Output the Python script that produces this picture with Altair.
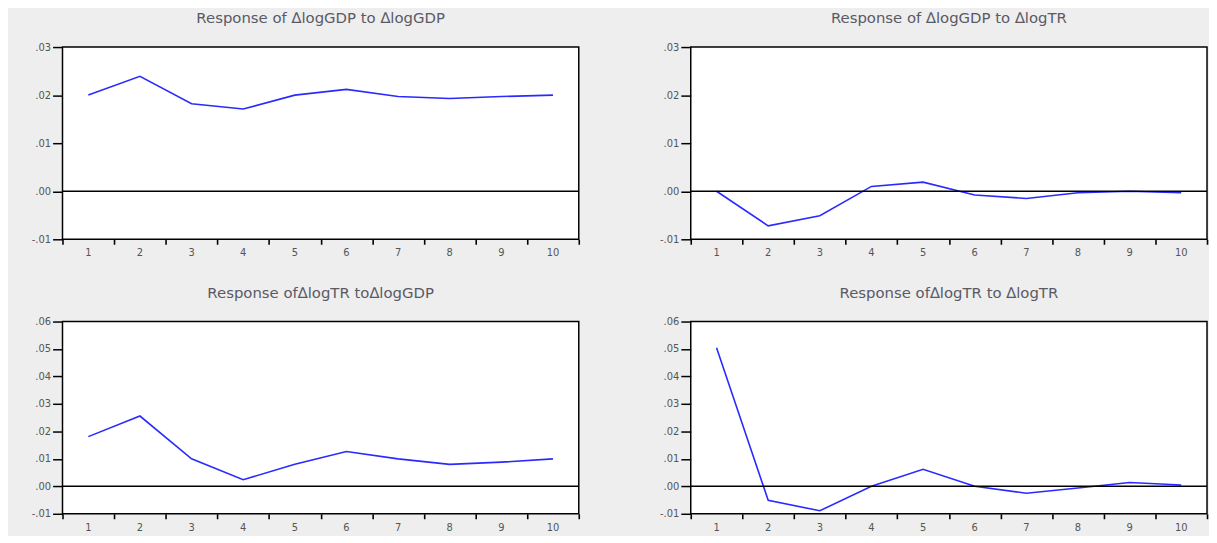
import altair as alt
import pandas as pd

periods = [1, 2, 3, 4, 5, 6, 7, 8, 9, 10]
gdp_to_gdp = [0.0200, 0.0239, 0.0182, 0.0171, 0.0200, 0.0212, 0.0197, 0.0193, 0.0197, 0.0200]
gdp_to_tr = [0.0000, -0.0072, -0.0051, 0.0010, 0.0019, -0.0008, -0.0015, -0.0003, 0.0000, -0.0003]
tr_to_gdp = [0.0181, 0.0256, 0.0100, 0.0024, 0.0080, 0.0127, 0.0100, 0.0080, 0.0088, 0.0100]
tr_to_tr = [0.0505, -0.0051, -0.0089, 0.0000, 0.0062, 0.0000, -0.0025, -0.0006, 0.0014, 0.0005]

titles = [
    "Response of \u2206logGDP to \u2206logGDP",
    "Response of \u2206logGDP to \u2206logTR",
    "Response of\u2206logTR  to\u2206logGDP",
    "Response of\u2206logTR to \u2206logTR",
]
top_yticks = [-0.01, 0.0, 0.01, 0.02, 0.03]
bottom_yticks = [-0.01, 0.0, 0.01, 0.02, 0.03, 0.04, 0.05, 0.06]
x_bounds = [0.5, 1.5, 2.5, 3.5, 4.5, 5.5, 6.5, 7.5, 8.5, 9.5, 10.5]
zero_level = [0.0]

W = 521
H = 194
FONT = "DejaVu Sans"

label_expr = "(datum.value < 0 ? '-' : '') + '.' + substring(format(abs(datum.value), '.2f'), 2)"


def panel(values, title, yticks):
    df = pd.DataFrame({"period": periods, "value": values})
    zdf = pd.DataFrame({"value": zero_level})
    x = alt.X(
        "period:Q",
        scale=alt.Scale(domain=[x_bounds[0], x_bounds[-1]], nice=False, zero=False),
        axis=alt.Axis(values=x_bounds, labels=False, tickSize=5, tickWidth=1.6,
                      tickColor="black", domain=False, grid=False, title=None),
    )
    y = alt.Y(
        "value:Q",
        scale=alt.Scale(domain=[yticks[0], yticks[-1]], nice=False, zero=False),
        axis=alt.Axis(values=yticks, labelExpr=label_expr, tickSize=10, tickWidth=1.5,
                      tickColor="black", domain=False, grid=False, title=None,
                      labelFont=FONT, labelFontSize=10, labelColor="#555",
                      labelPadding=2, labelOverlap=False, labelBound=False),
    )
    zero = alt.Chart(zdf).mark_rule(color="black", strokeWidth=1.6).encode(y=y)
    line = alt.Chart(df).mark_line(color="#2a2aff", strokeWidth=1.6).encode(x=x, y=y)
    labels = alt.Chart(df).mark_text(font=FONT, fontSize=10, color="#555",
                                     baseline="middle").encode(
        x=x, y=alt.value(H + 14), text="period:Q")
    return alt.layer(line, zero, labels).properties(
        width=W, height=H,
        title=alt.TitleParams(title, font=FONT, fontSize=15, fontWeight="normal",
                              color="#5a5a66", anchor="middle", offset=16),
    )


p1 = panel(gdp_to_gdp, titles[0], top_yticks)
p2 = panel(gdp_to_tr, titles[1], top_yticks)
p3 = panel(tr_to_gdp, titles[2], bottom_yticks)
p4 = panel(tr_to_tr, titles[3], bottom_yticks)

chart = alt.vconcat(
    alt.hconcat(p1, p2, spacing=78),
    alt.hconcat(p3, p4, spacing=78),
    spacing=26,
).properties(
    padding={"left": 22, "top": 0, "right": 0, "bottom": 0},
).configure(
    background="#eeeeee",
).configure_axis(
    labelOverlap=False,
).configure_view(
    stroke="black", strokeWidth=1.5, fill="white",
)

chart.save("out.html", embed_options={"renderer": "svg", "actions": False})
